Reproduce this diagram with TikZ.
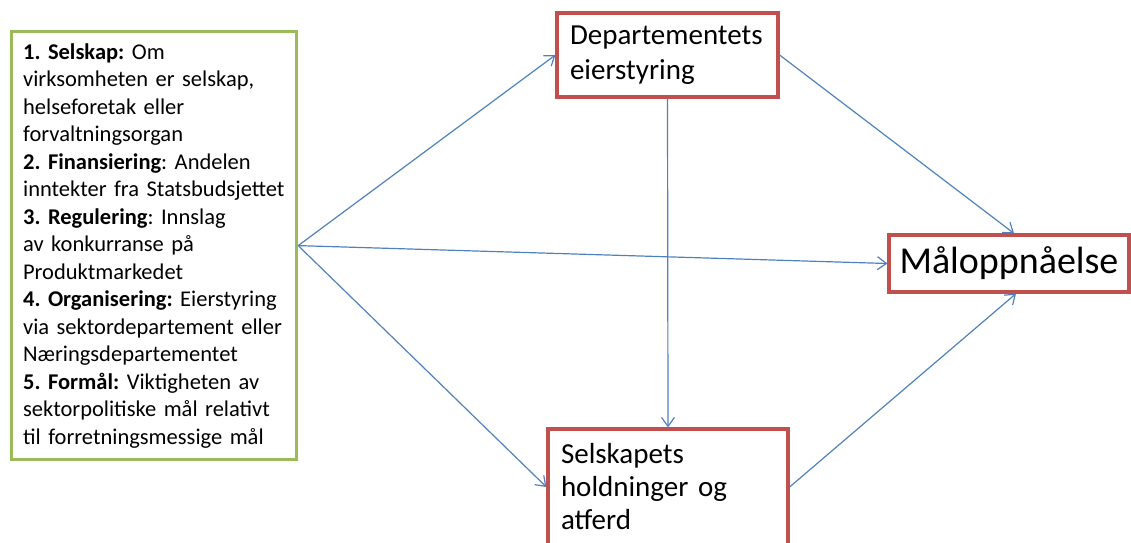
\documentclass[tikz,border=0pt]{standalone}
\usepackage{fontspec}
\setmainfont{Carlito}
\usepackage{xcolor}
\usetikzlibrary{arrows.meta}
\definecolor{ramme}{RGB}{192,80,77}
\definecolor{gronn}{RGB}{155,187,89}
\definecolor{pil}{RGB}{79,129,189}
\frenchspacing

\begin{document}
\begin{tikzpicture}[x=1pt,y=-1pt,
  boks/.style={rectangle, draw=ramme, line width=3.2pt, inner xsep=13pt, inner ysep=0pt, align=left},
  faktor/.style={rectangle, draw=gronn, line width=3.2pt, inner xsep=11.5pt, inner ysep=0pt, align=left,
    text width=262pt, minimum height=428pt, anchor=north west,
    font=\fontsize{22.5}{27.5}\selectfont},
  pil/.style={draw=pil, line width=1.2pt, -{Straight Barb[length=9pt,width=13pt,line width=1.2pt]}}]
\useasboundingbox (0,0) rectangle (1131,542);
\node [faktor] (F) at (10,30){\textbf{1. Selskap:} Om\\virksomheten er selskap,\\helseforetak eller\\forvaltningsorgan\\
\textbf{2. Finansiering}: Andelen\\inntekter fra Statsbudsjettet\\
\textbf{3. Regulering}: Innslag\\av konkurranse på\\Produktmarkedet\\
\textbf{4. Organisering:} Eierstyring\\via sektordepartement eller\\Næringsdepartementet\\
\textbf{5. Formål:} Viktigheten av\\sektorpolitiske mål relativt\\til forretningsmessige mål};
\node [boks, text width=195pt, minimum height=84pt, font=\fontsize{29}{35}\selectfont] (D) at (667.5,55){Departementets\\eierstyring};
\node [boks, text width=214pt, minimum height=116pt, font=\fontsize{29}{33}\selectfont] (S) at (668,487){Selskapets\\holdninger og\\atferd};
\node [boks, inner xsep=0pt, minimum width=240pt, minimum height=57pt, align=center, font=\fontsize{38}{44}\selectfont] (M) at (1009,263.5){Måloppnåelse};
\draw [pil] (F.east) -- (D.west);
\draw [pil] (F.east) -- (M.west);
\draw [pil] (F.east) -- (S.west);
\draw [pil] (D.south) -- (S.north);
\draw [pil] (D.east) -- ([xshift=5pt]M.north);
\draw [pil] (S.east) -- ([xshift=7pt]M.south);
\end{tikzpicture}
\end{document}
